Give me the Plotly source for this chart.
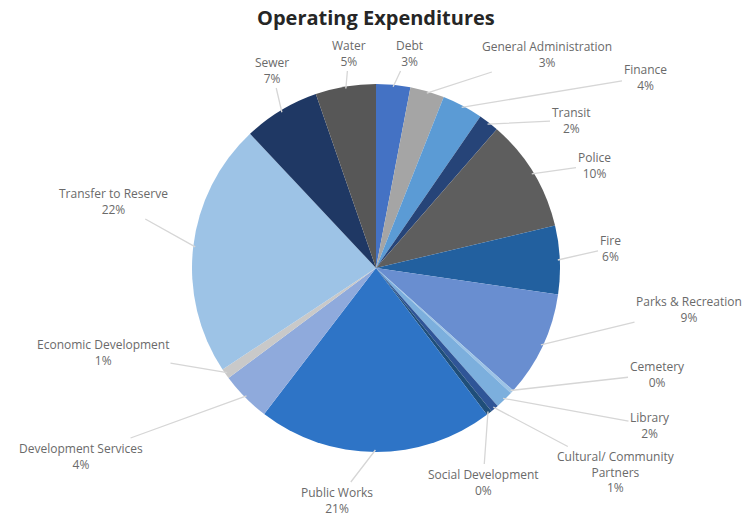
import math
import plotly.graph_objects as go

# Operating expenditure shares, clockwise from 12 o'clock
categories = [
    "Debt", "General Administration", "Finance", "Transit", "Police", "Fire",
    "Parks & Recreation", "Cemetery", "Library", "Cultural/ Community<br>Partners",
    "Social Development", "Public Works", "Development Services",
    "Economic Development", "Transfer to Reserve", "Sewer", "Water",
]
shares = [3.0, 3.0, 3.6, 1.8, 9.9, 6.0, 9.3, 0.3, 1.6, 0.7, 0.5, 20.7, 4.4,
          0.9, 22.3, 6.7, 5.3]
colors = [
    "#4472c4", "#a5a5a5", "#5b9bd5", "#264478", "#5e5e5e", "#22609f",
    "#698ed0", "#9dc3e6", "#7cafdd", "#2f5597", "#1f4e79", "#2e74c6",
    "#8faadc", "#c9c9c9", "#9dc3e6", "#1f3864", "#575757",
]
# label text placement (pixels, y measured downward)
label_pos = [
    (409, 53), (547, 54), (645, 77), (571, 120), (594, 165), (610, 248),
    (689, 309), (657, 374), (650, 425), (616, 472), (483, 482), (337, 500),
    (81, 456), (103, 352), (113, 201), (272, 70), (349, 53),
]

W, H = 748, 516
cx, cy, r = 376, 268, 184

fig = go.Figure()
fig.add_trace(go.Pie(
    labels=categories, values=shares, sort=False, direction="clockwise",
    rotation=0, textinfo="none", hoverinfo="label+percent",
    marker=dict(colors=colors, line=dict(width=0)),
    domain=dict(x=[(cx - r) / W, (cx + r) / W],
                y=[(H - cy - r) / H, (H - cy + r) / H]),
    showlegend=False,
))

total = sum(shares)
annotations = []
cum = 0.0
for name, v, (lx, ly) in zip(categories, shares, label_pos):
    frac = (cum + v / 2) / total
    cum += v
    ang = 2 * math.pi * frac
    px = cx + (r - 2) * math.sin(ang)
    py = cy - (r - 2) * math.cos(ang)
    pct = round(v / total * 100)
    annotations.append(dict(
        x=px, y=py, xref="x", yref="y",
        ax=lx, ay=ly, axref="x", ayref="y",
        text=f"{name}<br>{pct}%", showarrow=True, arrowhead=0,
        arrowwidth=1.3, arrowcolor="#d6d6d6", standoff=0, startstandoff=0,
        font=dict(family="Open Sans", size=12, color="#6a6a6a"),
        align="center",
    ))

annotations.append(dict(
    x=376, y=17, xref="x", yref="y", showarrow=False,
    text="<b>Operating Expenditures</b>",
    font=dict(family="Open Sans", size=20, color="#262626"),
))

fig.update_layout(
    width=W, height=H, margin=dict(l=0, r=0, t=0, b=0),
    paper_bgcolor="white", plot_bgcolor="white",
    xaxis=dict(range=[0, W], visible=False, fixedrange=True),
    yaxis=dict(range=[H, 0], visible=False, fixedrange=True),
    annotations=annotations,
)
fig.write_html("out.html")
